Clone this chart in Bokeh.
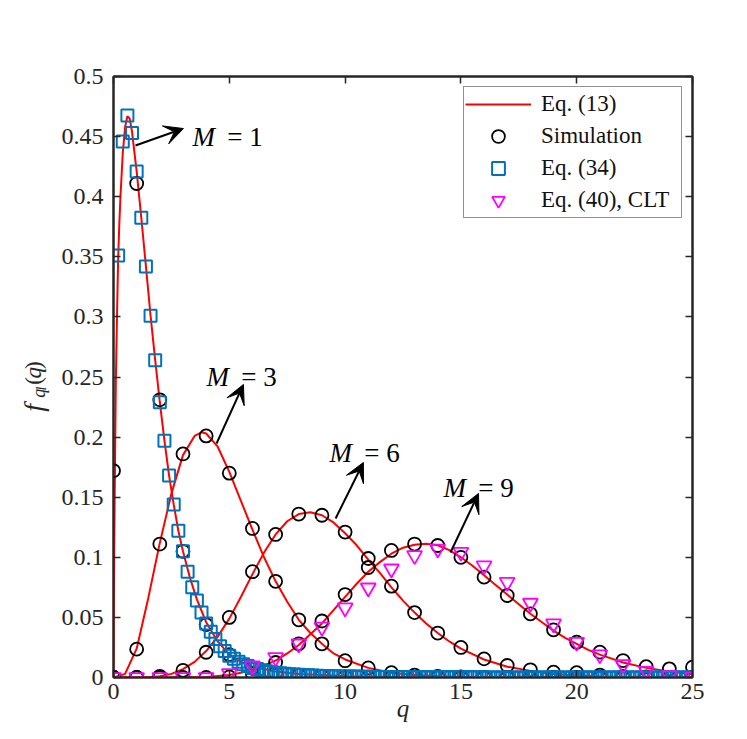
import math
from bokeh.plotting import figure
from bokeh.layouts import row
from bokeh.models import (Range1d, FixedTicker, LinearAxis, Legend, LegendItem,
                          Label, Arrow, VeeHead)
from bokeh.core.properties import value
from bokeh.embed import file_html
from bokeh.resources import INLINE

# ---------------- data ----------------
# Eq. (13) analytic curves (red), one per M
q_c1 = [0, 0.02, 0.05, 0.1, 0.15, 0.2, 0.25, 0.3, 0.4, 0.5, 0.6, 0.7, 0.8, 1.0, 1.2,
        1.4, 1.6, 1.8, 2.0, 2.2, 2.4, 2.6, 2.8, 3.0, 3.3, 3.6, 4.0, 4.5, 5.0, 5.5,
        6.0, 7.0, 8.0, 9.0, 10.0, 12.0, 15.0, 20.0, 25.0]
f_c1 = [0, 0.07, 0.15, 0.245, 0.30, 0.348, 0.377, 0.40, 0.436, 0.458, 0.467, 0.465,
        0.454, 0.421, 0.3825, 0.342, 0.301, 0.264, 0.229, 0.197, 0.168, 0.144, 0.122,
        0.105, 0.083, 0.065, 0.046, 0.030, 0.019, 0.013, 0.009, 0.005, 0.003, 0.002,
        0.001, 0.0005, 0.0002, 0.0001, 0]
q_c3 = [0, 0.5, 1.0, 1.5, 2.0, 2.5, 3.0, 3.5, 3.8, 4.0, 4.5, 5.0, 5.5, 6.0, 6.5, 7.0,
        7.5, 8.0, 8.5, 9.0, 9.5, 10.0, 11.0, 12.0, 13.0, 14.0, 15.0, 17.0, 20.0, 25.0]
f_c3 = [0, 0.003, 0.024, 0.066, 0.112, 0.153, 0.185, 0.201, 0.204, 0.203, 0.192,
        0.171, 0.147, 0.123, 0.100, 0.080, 0.063, 0.048, 0.037, 0.028, 0.020, 0.015,
        0.008, 0.004, 0.002, 0.001, 0.0005, 0.0001, 0, 0]
q_c6 = [0, 1.0, 1.5, 2.0, 2.5, 3.0, 3.5, 4.0, 4.5, 5.0, 5.5, 6.0, 6.5, 7.0, 7.5, 8.0,
        8.5, 9.0, 9.5, 10.0, 10.5, 11.0, 11.5, 12.0, 12.5, 13.0, 13.5, 14.0, 14.5,
        15.0, 16.0, 17.0, 18.0, 19.0, 20.0, 21.0, 22.0, 23.0, 25.0]
f_c6 = [0, 0, 0.0003, 0.001, 0.003, 0.007, 0.013, 0.022, 0.034, 0.049, 0.067, 0.086,
        0.104, 0.119, 0.130, 0.136, 0.1375, 0.135, 0.129, 0.120, 0.110, 0.098, 0.087,
        0.075, 0.064, 0.054, 0.045, 0.037, 0.030, 0.024, 0.015, 0.009, 0.0055, 0.003,
        0.0017, 0.0009, 0.0005, 0.0002, 0]
q_c9 = [0, 3.0, 4.0, 5.0, 5.5, 6.0, 6.5, 7.0, 7.5, 8.0, 8.5, 9.0, 9.5, 10.0, 10.5,
        11.0, 11.5, 12.0, 12.5, 13.0, 13.5, 14.0, 14.5, 15.0, 15.5, 16.0, 16.5, 17.0,
        17.5, 18.0, 18.5, 19.0, 19.5, 20.0, 20.5, 21.0, 22.0, 23.0, 24.0, 25.0]
f_c9 = [0, 0, 0.0005, 0.002, 0.004, 0.0065, 0.010, 0.014, 0.020, 0.027, 0.036, 0.045,
        0.056, 0.067, 0.078, 0.088, 0.096, 0.103, 0.108, 0.1105, 0.1112, 0.110, 0.106,
        0.100, 0.093, 0.085, 0.077, 0.069, 0.061, 0.053, 0.046, 0.039, 0.033, 0.028,
        0.023, 0.019, 0.0125, 0.008, 0.005, 0.003]

# Simulation (circles), integer q
sim_q = [0, 1, 2, 3, 4, 5, 6, 7, 8, 9, 10, 11, 12, 13, 14, 15, 16, 17, 18, 19, 20,
         21, 22, 23, 24, 25]
sim_M1 = [0.172, 0.411, 0.231, 0.105, 0.044, 0.019, 0.008, 0.004, 0.002, 0.001,
          0.0005, 0, 0, 0, 0, 0, 0, 0, 0, 0, 0, 0, 0, 0, 0, 0]
sim_M3 = [0, 0.0236, 0.111, 0.186, 0.201, 0.170, 0.124, 0.080, 0.048, 0.028, 0.014,
          0.008, 0.004, 0.002, 0.001, 0.0005, 0, 0, 0, 0, 0, 0, 0, 0, 0, 0]
sim_M6 = [0, 0, 0.001, 0.006, 0.021, 0.050, 0.088, 0.119, 0.136, 0.135, 0.121, 0.099,
          0.076, 0.054, 0.037, 0.025, 0.0155, 0.010, 0.0064, 0.0044, 0.004, 0.002,
          0.001, 0.0005, 0, 0]
sim_M9 = [0, 0, 0, 0, 0, 0.0005, 0.003, 0.0125, 0.028, 0.047, 0.069, 0.0915, 0.1057,
          0.111, 0.1098, 0.100, 0.0835, 0.0682, 0.053, 0.0397, 0.0294, 0.0211, 0.0141,
          0.009, 0.0072, 0.0086]

# Eq. (34) (squares), M = 1
q_sq = [0.2, 0.4, 0.6, 0.8, 1.0, 1.2, 1.4, 1.6, 1.8, 2.0,
        2.2, 2.4, 2.6, 2.8, 3.0, 3.2, 3.4, 3.6, 3.8, 4.0,
        4.2, 4.4, 4.6, 4.8, 5.0, 5.2, 5.4, 5.6, 5.8, 6.0,
        6.2, 6.4, 6.6, 6.8, 7.0, 7.2, 7.4, 7.6, 7.8, 8.0,
        8.2, 8.4, 8.6, 8.8, 9.0, 9.2, 9.4, 9.6, 9.8, 10.0,
        10.2, 10.4, 10.6, 10.8, 11.0, 11.2, 11.4, 11.6, 11.8, 12.0,
        12.2, 12.4, 12.6, 12.8, 13.0, 13.2, 13.4, 13.6, 13.8, 14.0,
        14.2, 14.4, 14.6, 14.8, 15.0, 15.2, 15.4, 15.6, 15.8, 16.0,
        16.2, 16.4, 16.6, 16.8, 17.0, 17.2, 17.4, 17.6, 17.8, 18.0,
        18.2, 18.4, 18.6, 18.8, 19.0, 19.2, 19.4, 19.6, 19.8, 20.0,
        20.2, 20.4, 20.6, 20.8, 21.0, 21.2, 21.4, 21.6, 21.8, 22.0,
        22.2, 22.4, 22.6, 22.8, 23.0, 23.2, 23.4, 23.6, 23.8, 24.0,
        24.2, 24.4, 24.6, 24.8, 25.0]
f_sq = [0.351, 0.446, 0.4675, 0.453, 0.421, 0.3825, 0.342, 0.301, 0.264, 0.229,
        0.197, 0.168, 0.144, 0.122, 0.105, 0.088, 0.075, 0.064, 0.054, 0.045,
        0.038, 0.032, 0.026, 0.022, 0.018, 0.0155, 0.013, 0.011, 0.0095, 0.008,
        0.007, 0.006, 0.0052, 0.0046, 0.004, 0.0035, 0.0031, 0.0028, 0.0025, 0.0022,
        0.002, 0.0018, 0.0016, 0.0015, 0.0013, 0.0012, 0.0011, 0.001, 0.0009, 0.0009,
        0.0008, 0.0008, 0.0007, 0.0007, 0.0006, 0.0006, 0.0005, 0.0005, 0.0005, 0.0004,
        0.0004, 0.0004, 0.0004, 0.0004, 0.0004, 0.0003, 0.0003, 0.0003, 0.0003, 0.0003,
        0.0003, 0.0003, 0.0002, 0.0002, 0.0002, 0.0002, 0.0002, 0.0002, 0.0002, 0.0002,
        0.0001, 0.0001, 0.0001, 0.0001, 0.0001, 0.0001, 0.0001, 0.0001, 0.0001, 0.0001,
        0.0001, 0.0001, 0.0001, 0.0001, 0.0001, 0.0001, 0.0001, 0.0001, 0.0001, 0.0001,
        0, 0, 0, 0, 0, 0, 0, 0, 0, 0,
        0, 0, 0, 0, 0, 0, 0, 0, 0, 0,
        0, 0, 0, 0, 0]

# Eq. (40), CLT (triangles), M = 9
clt_q = sim_q
clt_f = [0, 0, 0, 0, 0, 0.0033, 0.0097, 0.0167, 0.028, 0.042, 0.058, 0.0746, 0.0904,
         0.1015, 0.107, 0.1042, 0.093, 0.0793, 0.0619, 0.0447, 0.0294, 0.019, 0.0108,
         0.0053, 0.0017, 0.0003]

x_ticks = [0, 5, 10, 15, 20, 25]
y_ticks = [0, 0.05, 0.1, 0.15, 0.2, 0.25, 0.3, 0.35, 0.4, 0.45, 0.5]
y_tick_labels = ["0", "0.05", "0.1", "0.15", "0.2", "0.25", "0.3", "0.35", "0.4",
                 "0.45", "0.5"]

legend_labels = ["Eq. (13)", "Simulation", "Eq. (34)", "Eq. (40), CLT"]

# annotations "M = n" with arrows
ann_M = ["1", "3", "6", "9"]
ann_text_x = [3.41, 4.02, 9.33, 14.25]
ann_text_y = [0.450, 0.2496, 0.1864, 0.158]
arr_x0 = [0.95, 4.45, 9.59, 14.55]
arr_y0 = [0.4426, 0.1947, 0.1323, 0.104]
arr_x1 = [3.02, 5.61, 10.79, 15.76]
arr_y1 = [0.4567, 0.2438, 0.1789, 0.1531]

# ---------------- styling ----------------
AX = "#262626"
FONT = "Liberation Serif"
RED = "#FF0000"
BLUE = "#0072BD"
MAG = "#FF00FF"
H = 737
LAB_W = 52

p = figure(width=745 - LAB_W, height=H, x_range=Range1d(0, 25), y_range=Range1d(0, 0.5),
           output_backend="svg", toolbar_location=None,
           min_border_left=113 - LAB_W, min_border_right=53, min_border_top=76,
           min_border_bottom=60)
p.xgrid.visible = False
p.ygrid.visible = False
p.outline_line_color = AX
p.outline_line_width = 2
p.background_fill_color = "white"
p.border_fill_color = "white"

xt = FixedTicker(ticks=x_ticks)
yt = FixedTicker(ticks=y_ticks)


def style_axis(ax):
    ax.axis_line_color = AX
    ax.axis_line_width = 2
    ax.major_tick_line_color = AX
    ax.major_tick_line_width = 1.5
    ax.major_tick_in = 7
    ax.major_tick_out = 0
    ax.minor_tick_line_color = None
    ax.major_label_text_font = FONT
    ax.major_label_text_font_size = "24px"
    ax.major_label_text_color = AX


p.xaxis.ticker = xt
p.yaxis.ticker = yt
style_axis(p.xaxis[0])
style_axis(p.yaxis[0])
p.xaxis.major_label_standoff = 6
p.yaxis.major_label_standoff = 10
p.yaxis.major_label_overrides = dict(zip(y_ticks, y_tick_labels))
p.xaxis.axis_label = "q"
p.xaxis.axis_label_text_font = FONT
p.xaxis.axis_label_text_font_style = "italic"
p.xaxis.axis_label_text_font_size = "25px"
p.xaxis.axis_label_text_color = AX
p.xaxis.axis_label_standoff = -7

ax_top = LinearAxis(ticker=xt)
style_axis(ax_top)
ax_top.major_label_overrides = {t: "" for t in x_ticks}
ax_top.major_label_text_font_size = "1px"
p.add_layout(ax_top, "above")
ax_right = LinearAxis(ticker=yt)
style_axis(ax_right)
ax_right.major_label_overrides = {t: "" for t in y_ticks}
ax_right.major_label_text_font_size = "1px"
p.add_layout(ax_right, "right")

# curves
line_rs = []
for qs, fs in [(q_c1, f_c1), (q_c3, f_c3), (q_c6, f_c6), (q_c9, f_c9)]:
    line_rs.append(p.line(qs, fs, line_color=RED, line_width=2))

sim_x = sim_q + sim_q + sim_q + sim_q
sim_y = sim_M1 + sim_M3 + sim_M6 + sim_M9
r_sim = p.scatter(sim_x, sim_y, marker="circle", size=13, fill_color=None,
                  line_color="black", line_width=1.8)
r_sq = p.scatter(q_sq, f_sq, marker="square", size=12, fill_color=None,
                 line_color=BLUE, line_width=2)
r_tri = p.scatter(clt_q, clt_f, marker="inverted_triangle", size=15,
                  fill_color=None, line_color=MAG, line_width=1.8)

legend = Legend(items=[LegendItem(label=legend_labels[0], renderers=[line_rs[0]]),
                       LegendItem(label=legend_labels[1], renderers=[r_sim]),
                       LegendItem(label=legend_labels[2], renderers=[r_sq]),
                       LegendItem(label=legend_labels[3], renderers=[r_tri])],
                location="top_right")
legend.border_line_color = AX
legend.border_line_width = 1.5
legend.background_fill_color = "white"
legend.background_fill_alpha = 1
legend.padding = 1
legend.spacing = -3
legend.glyph_width = 66
legend.glyph_height = 32
legend.label_height = 32
legend.label_width = 139
legend.label_standoff = 10
legend.margin = 10
legend.label_text_font = FONT
legend.label_text_font_size = "23px"
legend.label_text_color = "#111111"
p.add_layout(legend)

# annotations
for m, tx, ty, x0, y0, x1, y1 in zip(ann_M, ann_text_x, ann_text_y, arr_x0, arr_y0,
                                     arr_x1, arr_y1):
    p.add_layout(Arrow(end=VeeHead(size=19, fill_color="black", line_color="black",
                                   line_width=1),
                       x_start=x0, y_start=y0, x_end=x1, y_end=y1,
                       line_color="black", line_width=2))
    p.add_layout(Label(x=tx, y=ty, text="M", text_font=FONT, text_font_style="italic",
                       text_font_size="27px", text_color="black",
                       text_baseline="alphabetic", text_align="left"))
    p.add_layout(Label(x=tx + 1.5, y=ty, text="= " + m, text_font=FONT,
                       text_font_size="27px", text_color="black",
                       text_baseline="alphabetic", text_align="left"))

# y axis label  f_{q_l}(q), rotated, in a narrow text-only figure at the left
pl = figure(width=LAB_W, height=H, x_range=Range1d(0, LAB_W), y_range=Range1d(0, H),
            output_backend="svg", toolbar_location=None,
            x_axis_type=None, y_axis_type=None, min_border=0)
pl.outline_line_color = None
pl.background_fill_color = "white"
pl.border_fill_color = "white"
ylab_parts = [
    # text, baseline x (px), start y (px from bottom), size, style
    ("f", 33, 326, "28px", "italic"),
    ("q", 38, 343, "18px", "italic"),
    ("l", 41, 352, "14px", "italic"),
    ("(", 33, 359, "23px", "normal"),
    ("q", 33, 366.7, "23px", "italic"),
    (")", 33, 378.2, "23px", "normal"),
]
for t, x, y, s, st in ylab_parts:
    pl.text(x=[x], y=[y], text=[t], angle=math.pi / 2, text_font=value(FONT),
            text_font_style=st, text_font_size=s, text_color=AX,
            text_align="left", text_baseline="alphabetic")

layout = row(pl, p)
open("out.html", "w").write(file_html(layout, INLINE))
